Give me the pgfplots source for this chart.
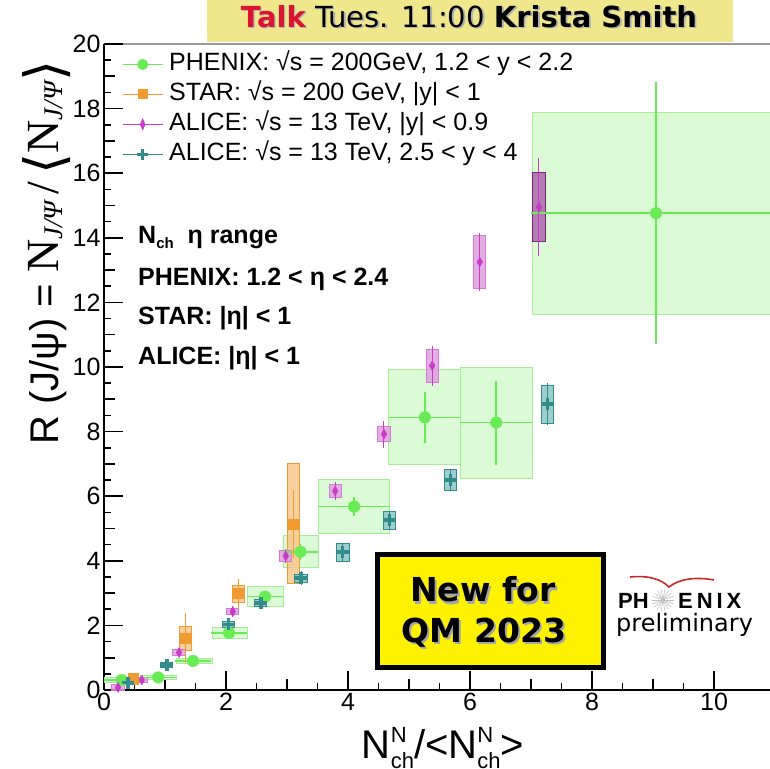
\documentclass[border=0pt]{standalone}
\usepackage{fontspec}
\setmainfont{Liberation Sans}
\newfontfamily\dejavu{DejaVu Sans}
\newfontfamily\lserif{Liberation Serif}
\usepackage{pgfplots}
\pgfplotsset{compat=1.18}
\usepackage{pgfplotstable}

\definecolor{phx}{RGB}{105,235,85}
\definecolor{phxbox}{RGB}{213,249,207}
\definecolor{phxedge}{RGB}{165,238,150}
\definecolor{star}{RGB}{240,155,50}
\definecolor{starbox}{RGB}{246,200,140}
\definecolor{alm}{RGB}{200,60,200}
\definecolor{almbox}{RGB}{222,160,222}
\definecolor{almdark}{RGB}{178,110,178}
\definecolor{alf}{RGB}{50,140,140}
\definecolor{alfbox}{RGB}{140,198,198}
\definecolor{khaki}{RGB}{240,230,140}
\definecolor{talkred}{RGB}{220,20,50}
\definecolor{logored}{RGB}{200,40,40}

\pgfplotsset{
  phxb/.style={fill=phxbox, draw=phxedge, line width=0.8pt, fill opacity=0.85},
  starb/.style={fill=starbox, draw=star, line width=1pt, fill opacity=0.85},
  almb/.style={fill=almbox, draw=alm!70, line width=1pt, fill opacity=0.85},
  almdb/.style={fill=almdark, draw=alm!60!black, line width=1pt, fill opacity=0.9},
  alfb/.style={fill=alfbox, draw=alf, line width=1pt, fill opacity=0.85},
}
\newcommand{\sysbox}[5]{\addplot[#1, forget plot] coordinates {(#2,#4) (#3,#4) (#3,#5) (#2,#5)} -- cycle;}
\newcommand{\nch}{N\rlap{\raisebox{16pt}{\fontsize{22}{22}\selectfont N}}\raisebox{-10pt}{\fontsize{22}{22}\selectfont ch}}
\newcommand{\jpsisub}{\raisebox{-4pt}{\lserif\itshape\fontsize{27}{27}\selectfont J/Ψ}}
\newcommand{\bigN}{{\lserif\fontsize{46}{46}\selectfont N}}
\newcommand{\bra}[1]{\raisebox{-5pt}{\dejavu\fontsize{54}{54}\selectfont #1}}

\pgfplotstableread{
x y ex ey
0.29 0.31 0.295 0.05
0.89 0.39 0.295 0.06
1.46 0.90 0.295 0.08
2.05 1.77 0.29 0.12
2.64 2.89 0.295 0.15
3.22 4.28 0.285 0.25
4.10 5.68 0.585 0.30
5.26 8.44 0.585 0.78
6.43 8.28 0.59 1.30
9.05 14.76 2.05 4.05
}\phenixdata

\pgfplotstableread{
x y ey
0.48 0.36 0.08
1.33 1.60 0.68
2.20 2.99 0.35
3.10 5.14 0.97
}\stardata

\pgfplotstableread{
x y ey
0.23 0.08 0.03
0.62 0.31 0.04
1.23 1.16 0.06
2.11 2.43 0.08
2.98 4.15 0.12
3.79 6.16 0.18
4.59 7.92 0.33
5.38 10.04 0.52
6.16 13.25 0.80
7.13 14.95 1.43
}\alicemid

\pgfplotstableread{
x y ey
0.39 0.23 0.04
1.03 0.77 0.05
2.04 2.03 0.08
2.57 2.70 0.10
3.23 3.46 0.12
3.91 4.28 0.18
4.68 5.26 0.20
5.68 6.50 0.25
7.27 8.85 0.55
}\alicefwd

\begin{document}
\begin{tikzpicture}
\useasboundingbox (0pt,0pt) rectangle (770pt,768pt);
\clip (0pt,0pt) rectangle (770pt,768pt);
% banner
\fill[khaki] (207pt,726pt) rectangle (733pt,768pt);
\node[anchor=base, text=gray!60, font=\dejavu\fontsize{29}{30}\selectfont] at (470.5pt,739pt) {\textbf{Talk} Tues. 11:00 \textbf{Krista Smith}};
\node[anchor=base, font=\dejavu\fontsize{29}{30}\selectfont] at (469pt,740.5pt) {\textbf{\textcolor{talkred}{Talk}} Tues. 11:00 \textbf{Krista Smith}};
\draw[gray!80, line width=2pt] (104pt,724pt) -- (770pt,724pt);

\begin{axis}[
  at={(104pt,78pt)}, anchor=south west,
  scale only axis, width=671pt, height=646pt,
  xmin=0, xmax=11, ymin=0, ymax=20,
  axis x line*=bottom, axis y line*=left,
  tick pos=left,
  axis line style={line width=2pt, black},
  xtick={0,2,...,10}, ytick={0,2,...,20},
  minor x tick num=3, minor y tick num=3,
  tick align=inside,
  major tick length=19pt, minor tick length=7pt,
  every tick/.style={black, line width=1.6pt},
  extra x ticks={1,3,5,7,9}, extra x tick labels={}, extra x tick style={major tick length=11pt},
  extra y ticks={1,3,...,19}, extra y tick labels={}, extra y tick style={major tick length=11pt},
  tick label style={font=\fontsize{25}{25}\selectfont},
  /pgf/number format/assume math mode=true,
  clip=false,
  legend cell align=left,
  legend image code/.code={\draw[mark repeat=2,mark phase=2,#1] plot coordinates {(0pt,0pt) (20pt,0pt) (40pt,0pt)};},
  legend style={at={(0.0268,0.988)}, anchor=north west, draw=none, fill=none,
    inner sep=0pt, font=\fontsize{25}{25}\selectfont, row sep=5pt, column sep=6pt,
    nodes={inner sep=0pt, text height=19pt, text depth=6pt}},
]
\addlegendimage{phx, line width=1pt, mark=*, mark size=5pt, mark options={fill=phx}}
\addlegendentry{PHENIX: √s = 200GeV, 1.2 < y < 2.2}
\addlegendimage{star, line width=1pt, mark=square*, mark size=4.5pt}
\addlegendentry{STAR: √s = 200 GeV, |y| < 1}
\addlegendimage{alm, line width=1pt, mark=diamond*, mark size=5pt, mark options={xscale=0.6}}
\addlegendentry{ALICE: √s = 13 TeV, |y| < 0.9}
\addlegendimage{alf, line width=1pt, mark=+, mark size=5.5pt, mark options={line width=3pt}}
\addlegendentry{ALICE: √s = 13 TeV, 2.5 < y < 4}

% PHENIX systematic boxes
\sysbox{phxb}{0.0}{0.59}{0.24}{0.38}
\sysbox{phxb}{0.59}{1.18}{0.32}{0.46}
\sysbox{phxb}{1.18}{1.77}{0.83}{0.98}
\sysbox{phxb}{1.77}{2.35}{1.60}{1.95}
\sysbox{phxb}{2.35}{2.94}{2.58}{3.20}
\sysbox{phxb}{2.94}{3.51}{3.79}{4.80}
\sysbox{phxb}{3.51}{4.68}{4.85}{6.52}
\sysbox{phxb}{4.67}{5.84}{6.99}{9.93}
\sysbox{phxb}{5.84}{7.02}{6.55}{10.0}
\sysbox{phxb}{7.02}{11.1}{11.63}{17.88}
% STAR boxes
\sysbox{starb}{0.40}{0.57}{0.18}{0.52}
\sysbox{starb}{1.23}{1.43}{1.22}{1.98}
\sysbox{starb}{2.10}{2.30}{2.70}{3.25}
\sysbox{starb}{3.00}{3.21}{3.30}{7.00}
% ALICE mid boxes
\sysbox{almb}{0.13}{0.33}{0.0}{0.16}
\sysbox{almb}{0.52}{0.72}{0.24}{0.38}
\sysbox{almb}{1.13}{1.33}{1.08}{1.24}
\sysbox{almb}{2.01}{2.21}{2.35}{2.51}
\sysbox{almb}{2.88}{3.08}{3.97}{4.32}
\sysbox{almb}{3.69}{3.89}{5.95}{6.37}
\sysbox{almb}{4.49}{4.69}{7.69}{8.15}
\sysbox{almb}{5.28}{5.48}{9.51}{10.55}
\sysbox{almb}{6.06}{6.26}{12.44}{14.07}
\sysbox{almdb}{7.03}{7.23}{13.88}{16.02}
% ALICE fwd boxes
\sysbox{alfb}{0.29}{0.49}{0.17}{0.29}
\sysbox{alfb}{0.93}{1.13}{0.70}{0.84}
\sysbox{alfb}{1.94}{2.14}{1.95}{2.11}
\sysbox{alfb}{2.47}{2.67}{2.60}{2.80}
\sysbox{alfb}{3.13}{3.33}{3.34}{3.58}
\sysbox{alfb}{3.81}{4.02}{3.99}{4.54}
\sysbox{alfb}{4.58}{4.78}{4.97}{5.52}
\sysbox{alfb}{5.58}{5.78}{6.17}{6.83}
\sysbox{alfb}{7.17}{7.37}{8.26}{9.44}

% points
\addplot[forget plot, only marks, color=phx, mark=*, mark size=5.8pt, mark options={fill=phx, draw=phx},
  error bars/.cd, x dir=both, x explicit, y dir=both, y explicit, error mark=none,
  error bar style={line width=1.5pt, phx}]
  table[x=x, y=y, x error=ex, y error=ey] {\phenixdata};
\addplot[forget plot, only marks, color=star, mark=square*, mark size=5pt, mark options={fill=star, draw=star},
  error bars/.cd, y dir=both, y explicit,
  error bar style={line width=1pt, star}, error mark options={mark size=3pt, line width=1pt, star}]
  table[x=x, y=y, y error=ey] {\stardata};
\addplot[forget plot, only marks, color=alm, mark=diamond*, mark size=5pt, mark options={fill=alm, draw=alm, xscale=0.75},
  error bars/.cd, y dir=both, y explicit,
  error bar style={line width=1pt, alm}, error mark options={mark size=3pt, line width=1pt, alm}]
  table[x=x, y=y, y error=ey] {\alicemid};
\addplot[forget plot, only marks, color=alf, mark=+, mark size=6pt, mark options={line width=3.5pt, alf},
  error bars/.cd, y dir=both, y explicit,
  error bar style={line width=1pt, alf}, error mark options={mark size=3pt, line width=1pt, alf}]
  table[x=x, y=y, y error=ey] {\alicefwd};
\end{axis}

% axis labels
\node[rotate=90, anchor=base west, inner sep=0pt, font=\fontsize{40}{40}\selectfont] at (58pt,323pt)
  {R (J/ψ) = \bigN\jpsisub\hspace{7pt}{\lserif\fontsize{46}{46}\selectfont /}\hspace{7pt}\bra{⟨}\bigN\jpsisub\bra{⟩}};
\node[anchor=base, font=\fontsize{40}{40}\selectfont] at (443pt,10pt) {\nch/<\nch>};

% eta range text
\begin{scope}[every node/.style={anchor=base west, font=\bfseries\fontsize{25}{25}\selectfont, inner sep=0pt}]
\node at (138pt,524pt) {N\raisebox{-5pt}{\fontsize{15}{15}\selectfont ch}\ \ η range};
\node at (138pt,482pt) {PHENIX: 1.2 < η < 2.4};
\node at (138pt,443pt) {STAR: |η| < 1};
\node at (138pt,403pt) {ALICE: |η| < 1};
\end{scope}

% New for QM 2023 box
\draw[line width=5pt, fill=yellow] (377.5pt,213.5pt) rectangle (603.5pt,100.5pt);
\begin{scope}[every node/.style={anchor=base, font=\dejavu\bfseries\fontsize{33}{33}\selectfont, inner sep=0pt}]
\node[text=gray!70] at (485pt,164pt) {New for};
\node at (483pt,166pt) {New for};
\node[text=gray!70] at (486pt,124pt) {QM 2023};
\node at (484pt,126pt) {QM 2023};
\end{scope}

% PHENIX logo
\draw[logored, line width=1.6pt] (630pt,191pt) .. controls (650pt,193pt) and (662pt,188pt) .. (669pt,181pt)
  .. controls (680pt,190pt) and (698pt,191pt) .. (714pt,188pt);
\node[anchor=base west, inner sep=0pt, font=\bfseries\fontsize{22}{22}\selectfont] at (618pt,160pt) {PH};
\node[anchor=base west, inner sep=0pt, font=\bfseries\fontsize{22}{22}\selectfont] at (678pt,160pt) {\addfontfeature{LetterSpace=18}ENIX};
\foreach \a in {0,20,...,340} {\draw[gray!50, line width=0.6pt] (663pt,168pt) -- ++(\a:11pt);}
\node[anchor=base west, inner sep=0pt, font=\dejavu\fontsize{24}{24}\selectfont] at (616pt,136pt) {preliminary};
\end{tikzpicture}
\end{document}
